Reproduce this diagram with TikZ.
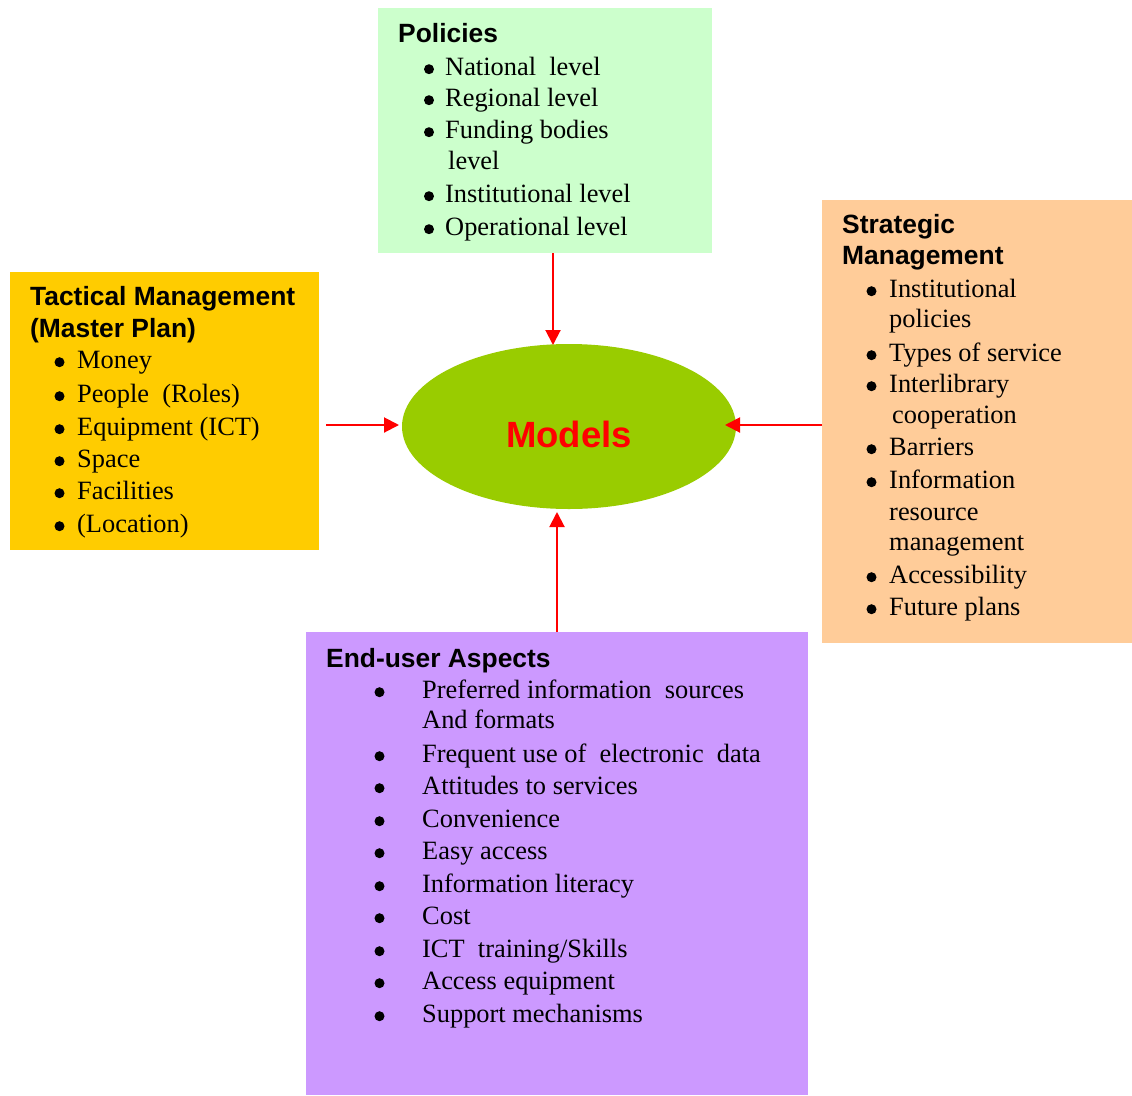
\documentclass[tikz,border=0pt]{standalone}
\usepackage{fontspec}
\setmainfont{Liberation Serif}
\newfontfamily\headfont{Liberation Sans}
\usetikzlibrary{shapes.geometric,arrows.meta}

\definecolor{polgreen}{HTML}{CCFFCC}
\definecolor{tacyellow}{HTML}{FFCC00}
\definecolor{strpeach}{HTML}{FFCC99}
\definecolor{usrviolet}{HTML}{CC99FF}
\definecolor{modgreen}{HTML}{99CC00}
\definecolor{arrred}{HTML}{FF0000}

% bullet line: name, bullet centre x, text x, baseline y, text
\newcommand\itm[5]{%
  \node[bul] (#1-b) at (#2,#4-5.8) {};
  \node[txt] (#1) at (#3,#4) {#5};}
% continuation line: name, x, baseline y, text
\newcommand\cnt[4]{\node[txt] (#1) at (#2,#3) {#4};}

\begin{document}
\begin{tikzpicture}[x=1pt,y=-1pt,
  panel/.style={rectangle, draw=none, inner sep=0pt, anchor=north west},
  txt/.style={anchor=base west, inner sep=0pt, font=\fontsize{26.4}{30}\selectfont},
  bul/.style={circle, fill=black, draw=none, inner sep=0pt, minimum size=10pt},
  head/.style={anchor=base west, inner sep=0pt, font=\headfont\bfseries\fontsize{26.4}{30}\selectfont},
  arr/.style={draw=arrred, line width=2pt, -{Triangle[length=15pt,width=15pt]}}]

\useasboundingbox (0,0) rectangle (1132,1095);

% coloured panels
\node[panel, fill=polgreen, minimum width=334pt, minimum height=245pt] (policies) at (378,8) {};
\node[panel, fill=tacyellow, minimum width=309pt, minimum height=278pt] (tactical) at (10,272) {};
\node[panel, fill=strpeach, minimum width=310pt, minimum height=443pt] (strategic) at (822,200) {};
\node[panel, fill=usrviolet, minimum width=502pt, minimum height=463pt] (enduser) at (306,632) {};

% central ellipse
\node[ellipse, fill=modgreen, draw=none, inner sep=0pt, minimum width=334pt, minimum height=165pt] (models) at (569,426.5) {};
\node[anchor=base, inner sep=0pt, text=arrred, font=\headfont\bfseries\fontsize{36.5}{40}\selectfont] (modelslabel) at (569,447) {Models};

% Policies
\node[head] (polhead) at (398,42) {Policies};
\itm{pol1}{429}{445}{75}{National\ \ level}
\itm{pol2}{429}{445}{106}{Regional level}
\itm{pol3}{429}{445}{138}{Funding bodies}
\cnt{pol3b}{448}{169}{level}
\itm{pol4}{429}{445}{202}{Institutional level}
\itm{pol5}{429}{445}{235}{Operational level}

% Tactical management
\node[head] (tachead) at (30,305) {Tactical Management};
\node[head] (tachead2) at (30,337) {(Master Plan)};
\itm{tac1}{59.5}{77}{368}{Money}
\itm{tac2}{59.5}{77}{402}{People\ \ (Roles)}
\itm{tac3}{59.5}{77}{435}{Equipment (ICT)}
\itm{tac4}{59.5}{77}{467}{Space}
\itm{tac5}{59.5}{77}{499}{Facilities}
\itm{tac6}{59.5}{77}{532}{(Location)}

% Strategic management
\node[head] (strhead) at (842,233) {Strategic};
\node[head] (strhead2) at (842,264) {Management};
\itm{str1}{871.5}{889}{297}{Institutional}
\cnt{str1b}{889}{327}{policies}
\itm{str2}{871.5}{889}{361}{Types of service}
\itm{str3}{871.5}{889}{392}{Interlibrary}
\cnt{str3b}{892}{423}{cooperation}
\itm{str4}{871.5}{889}{455}{Barriers}
\itm{str5}{871.5}{889}{488}{Information}
\cnt{str5b}{889}{520}{resource}
\cnt{str5c}{889}{550}{management}
\itm{str6}{871.5}{889}{583}{Accessibility}
\itm{str7}{871.5}{889}{615}{Future plans}

% End-user aspects
\node[head] (usrhead) at (326,667) {End-user Aspects};
\itm{usr1}{379.5}{422}{698}{Preferred information\ \ sources}
\cnt{usr1b}{422}{728}{And formats}
\itm{usr2}{379.5}{422}{762}{Frequent use of\ \ electronic\ \ data}
\itm{usr3}{379.5}{422}{794}{Attitudes to services}
\itm{usr4}{379.5}{422}{827}{Convenience}
\itm{usr5}{379.5}{422}{859}{Easy access}
\itm{usr6}{379.5}{422}{892}{Information literacy}
\itm{usr7}{379.5}{422}{924}{Cost}
\itm{usr8}{379.5}{422}{957}{ICT\ \ training/Skills}
\itm{usr9}{379.5}{422}{989}{Access equipment}
\itm{usr10}{379.5}{422}{1022}{Support mechanisms}

% connectors into the ellipse
\coordinate (topin) at (553,345);
\coordinate (leftout) at (326,425);
\coordinate (leftin) at (399,425);
\coordinate (rightin) at (725,425);
\coordinate (botin) at (557,512);
\draw[arr] (policies.south -| topin) -- (topin);
\draw[arr] (leftout) -- (leftin);
\draw[arr] (strategic.west |- rightin) -- (rightin);
\draw[arr] (enduser.north -| botin) -- (botin);
\end{tikzpicture}
\end{document}
